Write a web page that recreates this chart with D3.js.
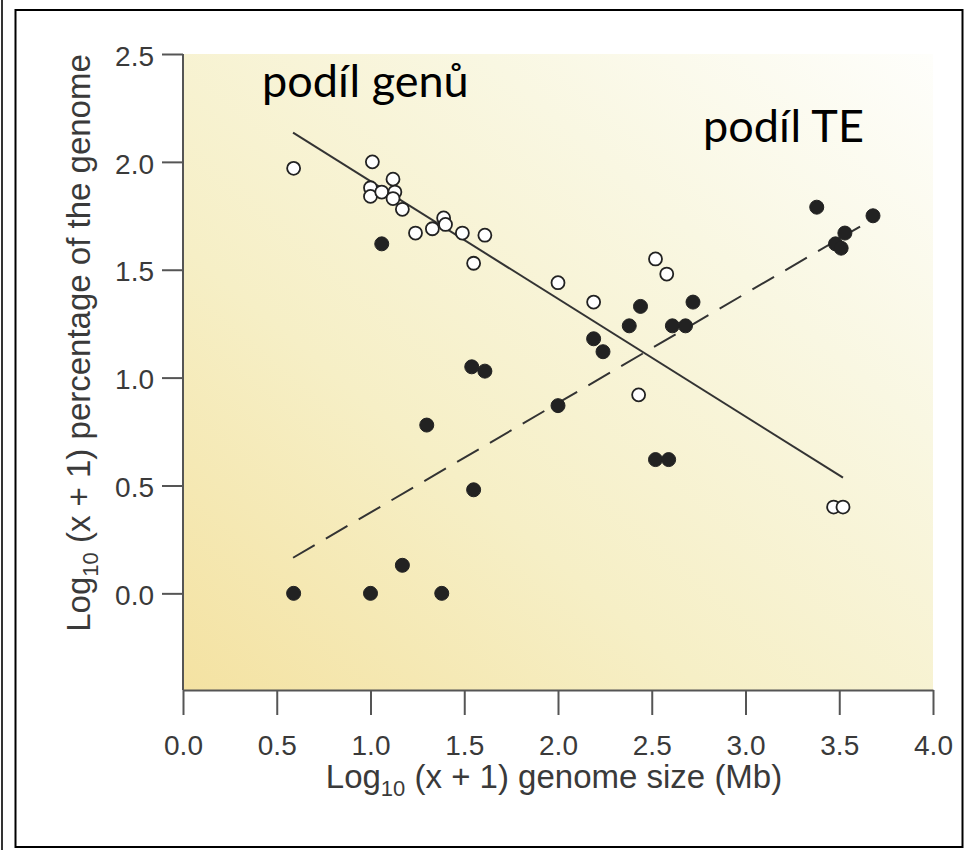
<!DOCTYPE html>
<html>
<head>
<meta charset="utf-8">
<script src="https://cdn.jsdelivr.net/npm/d3@7"></script>
<style>
html,body{margin:0;padding:0;background:#fff;}
svg{display:block;}
</style>
</head>
<body>
<svg id="chart" width="966" height="850"></svg>
<script>
// ---- data ----
const xTicks = [0.0, 0.5, 1.0, 1.5, 2.0, 2.5, 3.0, 3.5, 4.0];
const yTicks = [0.0, 0.5, 1.0, 1.5, 2.0, 2.5];

// open circles: gene share ("podíl genů")
const genesX = [0.59, 1.01, 1.00, 1.00, 1.06, 1.12, 1.13, 1.12, 1.17, 1.24, 1.33, 1.39, 1.40, 1.49, 1.61, 1.55, 2.00, 2.19, 2.52, 2.58, 2.43, 3.47, 3.52];
const genesY = [1.97, 2.00, 1.88, 1.84, 1.86, 1.92, 1.86, 1.83, 1.78, 1.67, 1.69, 1.74, 1.71, 1.67, 1.66, 1.53, 1.44, 1.35, 1.55, 1.48, 0.92, 0.40, 0.40];

// filled circles: TE share ("podíl TE")
const teX = [0.59, 1.00, 1.38, 1.17, 1.30, 1.55, 1.54, 1.61, 1.06, 2.00, 2.19, 2.24, 2.38, 2.44, 2.61, 2.68, 2.72, 2.52, 2.59, 3.38, 3.68, 3.53, 3.48, 3.51];
const teY = [0.00, 0.00, 0.00, 0.13, 0.78, 0.48, 1.05, 1.03, 1.62, 0.87, 1.18, 1.12, 1.24, 1.33, 1.24, 1.24, 1.35, 0.62, 0.62, 1.79, 1.75, 1.67, 1.62, 1.60];

// fitted lines (end points)
const genesFitX = [0.587, 3.52];
const genesFitY = [2.136, 0.536];
const teFitX = [0.587, 3.611];
const teFitY = [0.165, 1.70];

const yDomain = [-0.448, 2.5];
const xDomain = [0, 4];

// ---- drawing ----
(function draw() {
const svg = d3.select("#chart");

// frame
svg.append("line").attr("x1", 2).attr("x2", 2).attr("y1", 0).attr("y2", 850)
  .attr("stroke", "#000").attr("stroke-width", 1.6);
svg.append("rect").attr("x", 15.5).attr("y", 10).attr("width", 947).attr("height", 837)
  .attr("fill", "none").attr("stroke", "#000").attr("stroke-width", 2);

const pL = 183, pR = 933, pT = 54, pB = 690;
const x = d3.scaleLinear().domain(xDomain).range([pL, pR]);
const y = d3.scaleLinear().domain(yDomain).range([pB, pT]);

// background gradient
const defs = svg.append("defs");
const grad = defs.append("linearGradient").attr("id", "bg")
  .attr("x1", "0").attr("y1", "1").attr("x2", "1").attr("y2", "0");
grad.append("stop").attr("offset", "0").attr("stop-color", "#f4e2a2");
grad.append("stop").attr("offset", "0.35").attr("stop-color", "#f6efc6");
grad.append("stop").attr("offset", "0.7").attr("stop-color", "#f9f7e2");
grad.append("stop").attr("offset", "1").attr("stop-color", "#fefefb");

svg.append("rect").attr("x", pL).attr("y", pT)
  .attr("width", pR - pL).attr("height", pB - pT)
  .attr("fill", "url(#bg)");

// axes
const tickFont = "'Liberation Sans', Arial, sans-serif";
const xAxis = svg.append("g").attr("transform", `translate(0,${pB})`)
  .call(d3.axisBottom(x).tickValues(xTicks).tickFormat(d3.format(".1f")).tickSize(25).tickSizeOuter(0));
const yAxis = svg.append("g").attr("transform", `translate(${pL},0)`)
  .call(d3.axisLeft(y).tickValues(yTicks).tickFormat(d3.format(".1f")).tickSize(21).tickSizeOuter(0));

[xAxis, yAxis].forEach(g => {
  g.select(".domain").attr("stroke", "#555").attr("stroke-width", 2);
  g.selectAll(".tick line").attr("stroke", "#555").attr("stroke-width", 2);
  g.selectAll(".tick text").attr("fill", "#3a3a3a")
    .style("font-family", tickFont).style("font-size", "28px");
});
xAxis.selectAll(".tick text").attr("y", 65).attr("dy", "0");
yAxis.selectAll(".tick text").attr("x", -29).attr("dy", "0.4em");
yAxis.select(".domain").attr("d", `M0,${pT}V${pB}`);

// fit lines
const line = d3.line().x(d => x(d[0])).y(d => y(d[1]));
svg.append("path").datum(d3.zip(genesFitX, genesFitY)).attr("d", line)
  .attr("fill", "none").attr("stroke", "#333").attr("stroke-width", 2);
svg.append("path").datum(d3.zip(teFitX, teFitY)).attr("d", line)
  .attr("fill", "none").attr("stroke", "#333").attr("stroke-width", 2)
  .attr("stroke-dasharray", "25,13");

// points
svg.append("g").selectAll("circle").data(d3.zip(teX, teY)).join("circle")
  .attr("cx", d => x(d[0])).attr("cy", d => y(d[1])).attr("r", 7)
  .attr("fill", "#222").attr("stroke", "#222").attr("stroke-width", 1);
svg.append("g").selectAll("circle").data(d3.zip(genesX, genesY)).join("circle")
  .attr("cx", d => x(d[0])).attr("cy", d => y(d[1])).attr("r", 6.5)
  .attr("fill", "#fff").attr("stroke", "#222").attr("stroke-width", 1.8);

// axis titles
const titleFont = "'Liberation Sans', Arial, sans-serif";
const xt = svg.append("text").attr("x", 554).attr("y", 788).attr("text-anchor", "middle")
  .style("font-family", titleFont).style("font-size", "33px").attr("fill", "#3a3a3a");
xt.append("tspan").text("Log");
xt.append("tspan").text("10").style("font-size", "22px").attr("dy", 8);
xt.append("tspan").text(" (x + 1) genome size (Mb)").attr("dy", -8);

const yt = svg.append("text").attr("transform", "translate(90,343) rotate(-90)")
  .attr("text-anchor", "middle")
  .style("font-family", titleFont).style("font-size", "33px").attr("fill", "#3a3a3a");
yt.append("tspan").text("Log");
yt.append("tspan").text("10").style("font-size", "22px").attr("dy", 8);
yt.append("tspan").text(" (x + 1) percentage of the genome").attr("dy", -8);

// annotations
const annFont = "Lato, 'Open Sans', sans-serif";
svg.append("text").attr("x", 262).attr("y", 97).text("podíl genů")
  .style("font-family", annFont).style("font-size", "45px").attr("fill", "#000");
svg.append("text").attr("x", 703).attr("y", 142).text("podíl TE")
  .style("font-family", annFont).style("font-size", "45px").attr("fill", "#000");
})();
</script>
</body>
</html>
